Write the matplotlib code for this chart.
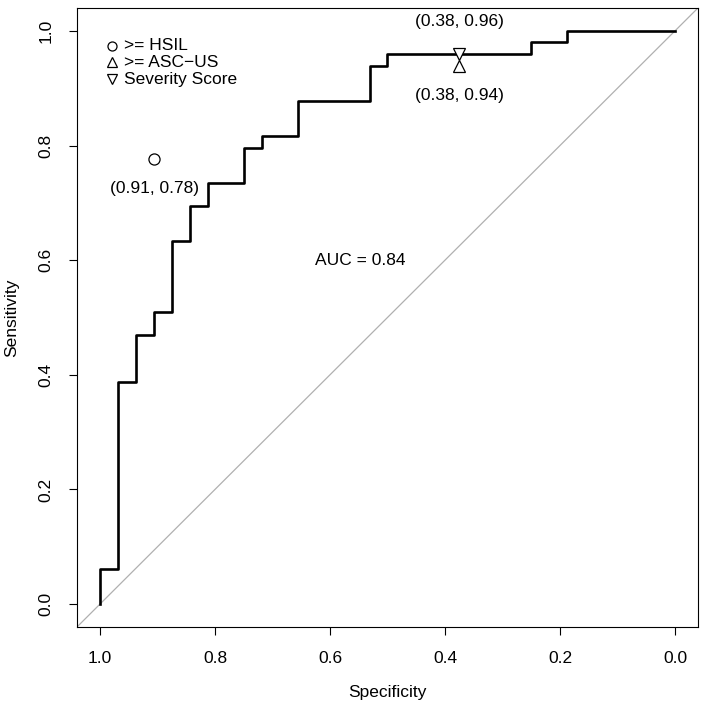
import matplotlib
matplotlib.use("Agg")
import matplotlib.pyplot as plt

plt.rcParams['font.family'] = ['Liberation Sans', 'DejaVu Sans']

# ROC curve vertices (specificity, sensitivity)
spec = [1.0, 1.0, 0.969, 0.969, 0.938, 0.938, 0.906, 0.906, 0.875, 0.875,
        0.844, 0.844, 0.812, 0.812, 0.75, 0.75, 0.719, 0.719, 0.656, 0.656,
        0.531, 0.531, 0.5, 0.5, 0.25, 0.25, 0.188, 0.188, 0.0]
sens = [0.0, 0.061, 0.061, 0.388, 0.388, 0.469, 0.469, 0.51, 0.51, 0.633,
        0.633, 0.694, 0.694, 0.735, 0.735, 0.796, 0.796, 0.816, 0.816, 0.878,
        0.878, 0.939, 0.939, 0.959, 0.959, 0.98, 0.98, 1.0, 1.0]

# single cut-off points
pt_names = [">= HSIL", ">= ASC\u2212US", "Severity Score"]
pt_spec = [0.906, 0.375, 0.375]
pt_sens = [0.776, 0.939, 0.959]
pt_marker = ["o", "^", "v"]
pt_label = ["(0.91, 0.78)", "(0.38, 0.94)", "(0.38, 0.96)"]
pt_offset = [-29, -30, 33]   # pixels, label placement

auc_text = "AUC = 0.84"
FS = 12.5

fig = plt.figure(figsize=(7.05, 7.08), dpi=100)
ax = fig.add_axes([0.1092, 0.1144, 0.8808, 0.8743])

ax.axline((1, 0), (0, 1), color="#b0b0b0", lw=0.9, zorder=1)
ax.plot(spec, sens, color="black", lw=1.9, zorder=2)

for s, se, m, lab, off in zip(pt_spec, pt_sens, pt_marker, pt_label, pt_offset):
    ax.plot(s, se, marker=m, ms=8, mfc="white", mec="black", mew=0.9,
            linestyle="none", zorder=3)
    ax.annotate(lab, (s, se), xytext=(0, off * 0.72), textcoords="offset points",
                ha="center", va="center", fontsize=FS)

ax.text(0.548, 0.600, auc_text, ha="center", va="center", fontsize=FS)

# legend in the top-left corner
leg_y = [0.974, 0.945, 0.916]
for m, name, ly in zip(pt_marker, pt_names, leg_y):
    ax.plot(0.979, ly, marker=m, ms=6.5, mfc="white", mec="black", mew=0.9,
            linestyle="none")
    ax.text(0.958, ly, name, ha="left", va="center", fontsize=FS)

ax.set_xlim(1.04, -0.04)
ax.set_ylim(-0.04, 1.04)
ticks = [0.0, 0.2, 0.4, 0.6, 0.8, 1.0]
ax.set_xticks(ticks)
ax.set_yticks(ticks)
ax.set_xticklabels(["%.1f" % t for t in ticks])
ax.set_yticklabels(["%.1f" % t for t in ticks], rotation=90, va="center")
ax.tick_params(direction="out", length=6, width=0.8, labelsize=FS, pad=11)
ax.set_xlabel("Specificity", fontsize=FS, labelpad=14)
ax.set_ylabel("Sensitivity", fontsize=FS, labelpad=14)
for sp in ax.spines.values():
    sp.set_linewidth(0.8)

fig.savefig("out.png", dpi=100)
